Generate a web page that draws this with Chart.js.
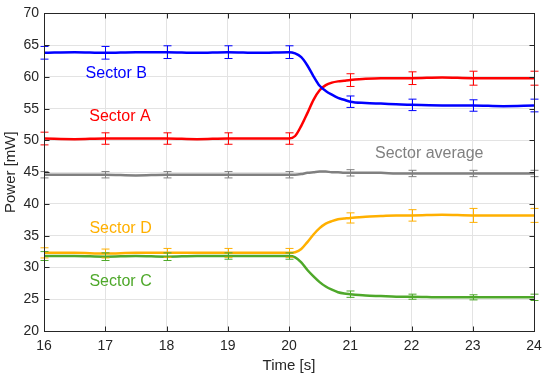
<!DOCTYPE html>
<html lang="en">
<head>
  <meta charset="UTF-8" />
  <title>Sector power</title>
  <script src="https://cdn.jsdelivr.net/npm/chart.js"></script>
  <style>
    * { margin: 0; padding: 0; box-sizing: border-box; }
    body { background: #fff; width: 550px; height: 382px; overflow: hidden; }
    #wrap { width: 550px; height: 382px; }
  </style>
</head>
<body>
<div id="wrap"><canvas id="myChart" width="550" height="382"></canvas></div>
<script>
  // time samples [s]
  const time = [16, 16.5, 17, 17.5, 18, 18.5, 19, 19.5, 20, 20.1, 20.2, 20.3, 20.4, 20.5, 20.6, 20.7, 20.8, 20.9, 21, 21.25, 21.5, 21.75, 22, 22.5, 23, 23.5, 24];

  // power per sector [mW]
  const sectorB   = [63.8, 63.9, 63.8, 63.9, 63.9, 63.8, 63.9, 63.8, 63.9, 63.7, 63.1, 61.8, 60.1, 58.6, 57.8, 57.2, 56.7, 56.4, 56.1, 55.9, 55.8, 55.7, 55.6, 55.5, 55.5, 55.4, 55.5];
  const sectorA   = [50.3, 50.2, 50.3, 50.3, 50.3, 50.2, 50.3, 50.3, 50.3, 50.7, 52.3, 54.3, 56.4, 57.9, 58.7, 59.1, 59.3, 59.4, 59.5, 59.7, 59.8, 59.8, 59.8, 59.9, 59.8, 59.8, 59.8];
  const sectorAvg = [44.6, 44.6, 44.6, 44.5, 44.6, 44.6, 44.6, 44.6, 44.6, 44.6, 44.7, 44.9, 45.0, 45.1, 45.1, 45.0, 45.0, 44.9, 44.9, 44.9, 44.9, 44.8, 44.8, 44.8, 44.8, 44.8, 44.8];
  const sectorD   = [32.3, 32.3, 32.2, 32.3, 32.3, 32.3, 32.3, 32.3, 32.3, 32.4, 32.9, 34.0, 35.2, 36.2, 36.9, 37.3, 37.6, 37.7, 37.8, 38.0, 38.1, 38.2, 38.2, 38.3, 38.2, 38.2, 38.2];
  const sectorC   = [31.8, 31.8, 31.7, 31.8, 31.7, 31.8, 31.8, 31.8, 31.8, 31.6, 30.8, 29.6, 28.6, 27.7, 27.0, 26.5, 26.1, 25.9, 25.8, 25.6, 25.5, 25.4, 25.4, 25.3, 25.3, 25.3, 25.3];

  // error bars at whole seconds (half-heights)
  const errTime = [16, 17, 18, 19, 20, 21, 22, 23, 24];
  const errB   = [1.0, 1.0, 1.0, 1.0, 1.0, 0.9, 0.9, 0.9, 1.0];
  const errA   = [1.0, 0.9, 0.9, 0.9, 0.9, 1.0, 1.0, 1.1, 1.1];
  const errAvg = [0.5, 0.5, 0.5, 0.5, 0.5, 0.5, 0.5, 0.5, 0.5];
  const errD   = [0.8, 0.7, 0.7, 0.7, 0.7, 0.8, 0.9, 1.1, 1.1];
  const errC   = [0.7, 0.6, 0.6, 0.5, 0.5, 0.5, 0.4, 0.4, 0.5];

  // in-plot labels: [text, x, y]
  const labelText = ["Sector B", "Sector A", "Sector average", "Sector D", "Sector C"];
  const labelX = [17.18, 17.24, 22.29, 17.25, 17.25];
  const labelY = [60.5, 53.8, 48.0, 36.1, 27.85];

  const xTicks = [16, 17, 18, 19, 20, 21, 22, 23, 24];
  const yTicks = [20, 25, 30, 35, 40, 45, 50, 55, 60, 65, 70];

  const series = [
    { name: "Sector B", values: sectorB, err: errB, color: "#0000ff" },
    { name: "Sector A", values: sectorA, err: errA, color: "#ff0000" },
    { name: "Sector average", values: sectorAvg, err: errAvg, color: "#808080" },
    { name: "Sector D", values: sectorD, err: errD, color: "#ffb000" },
    { name: "Sector C", values: sectorC, err: errC, color: "#4ea82a" }
  ];

  const axisColor = "#262626";
  const fontFam = "'Liberation Sans', Arial, sans-serif";

  // error bars + labels + box with inward ticks
  const extras = {
    id: "extras",
    afterDatasetsDraw(chart) {
      const { ctx, chartArea: a, scales: { x, y } } = chart;
      ctx.save();
      // error bars
      series.forEach(s => {
        ctx.strokeStyle = s.color;
        ctx.lineWidth = 1;
        errTime.forEach((t, i) => {
          const v = s.values[time.indexOf(t)];
          const px = Math.round(x.getPixelForValue(t)) + 0.5;
          const top = y.getPixelForValue(v + s.err[i]);
          const bot = y.getPixelForValue(v - s.err[i]);
          ctx.beginPath();
          ctx.moveTo(px, top); ctx.lineTo(px, bot);
          ctx.moveTo(px - 4, top); ctx.lineTo(px + 4, top);
          ctx.moveTo(px - 4, bot); ctx.lineTo(px + 4, bot);
          ctx.stroke();
        });
      });
      // text labels
      ctx.font = "16px " + fontFam;
      ctx.textAlign = "center";
      ctx.textBaseline = "middle";
      labelText.forEach((txt, i) => {
        ctx.fillStyle = series[i].color;
        ctx.fillText(txt, x.getPixelForValue(labelX[i]), y.getPixelForValue(labelY[i]));
      });
      // box
      ctx.strokeStyle = axisColor;
      ctx.lineWidth = 1;
      const L = Math.round(a.left) + 0.5, R = Math.round(a.right) + 0.5;
      const T = Math.round(a.top) + 0.5, B = Math.round(a.bottom) + 0.5;
      ctx.strokeRect(L, T, R - L, B - T);
      // inward ticks
      ctx.beginPath();
      xTicks.forEach(t => {
        const px = Math.round(x.getPixelForValue(t)) + 0.5;
        ctx.moveTo(px, B); ctx.lineTo(px, B - 5);
        ctx.moveTo(px, T); ctx.lineTo(px, T + 5);
      });
      yTicks.forEach(v => {
        const py = Math.round(y.getPixelForValue(v)) + 0.5;
        ctx.moveTo(L, py); ctx.lineTo(L + 5, py);
        ctx.moveTo(R, py); ctx.lineTo(R - 5, py);
      });
      ctx.stroke();
      ctx.restore();
    }
  };

  const ctx = document.getElementById("myChart").getContext("2d");
  new Chart(ctx, {
    type: "line",
    data: {
      datasets: series.map(s => ({
        label: s.name,
        data: time.map((t, i) => ({ x: t, y: s.values[i] })),
        borderColor: s.color,
        backgroundColor: s.color,
        borderWidth: 2.5,
        pointRadius: 0,
        cubicInterpolationMode: "monotone",
        fill: false
      }))
    },
    options: {
      responsive: false,
      animation: false,
      layout: { padding: { top: 10, right: 16, bottom: 0, left: 0 } },
      plugins: { legend: { display: false }, tooltip: { enabled: false } },
      scales: {
        x: {
          type: "linear",
          min: 16, max: 24,
          afterBuildTicks: s => { s.ticks = xTicks.map(v => ({ value: v })); },
          afterFit: s => { s.height = 51; },
          grid: { color: "#e3e3e3", drawTicks: false },
          border: { display: false },
          ticks: { color: axisColor, padding: 7, font: { size: 14, family: fontFam } },
          title: { display: true, text: "Time [s]", color: axisColor, padding: { top: 0, bottom: 7 }, font: { size: 15, family: fontFam } }
        },
        y: {
          min: 20, max: 70,
          afterBuildTicks: s => { s.ticks = yTicks.map(v => ({ value: v })); },
          afterFit: s => { s.width = 44; },
          grid: { color: "#e3e3e3", drawTicks: false },
          border: { display: false },
          ticks: { color: axisColor, padding: 5, font: { size: 14, family: fontFam } },
          title: { display: true, text: "Power [mW]", color: axisColor, padding: { top: 2, bottom: 0 }, font: { size: 15, family: fontFam } }
        }
      }
    },
    plugins: [extras]
  });
</script>
</body>
</html>
